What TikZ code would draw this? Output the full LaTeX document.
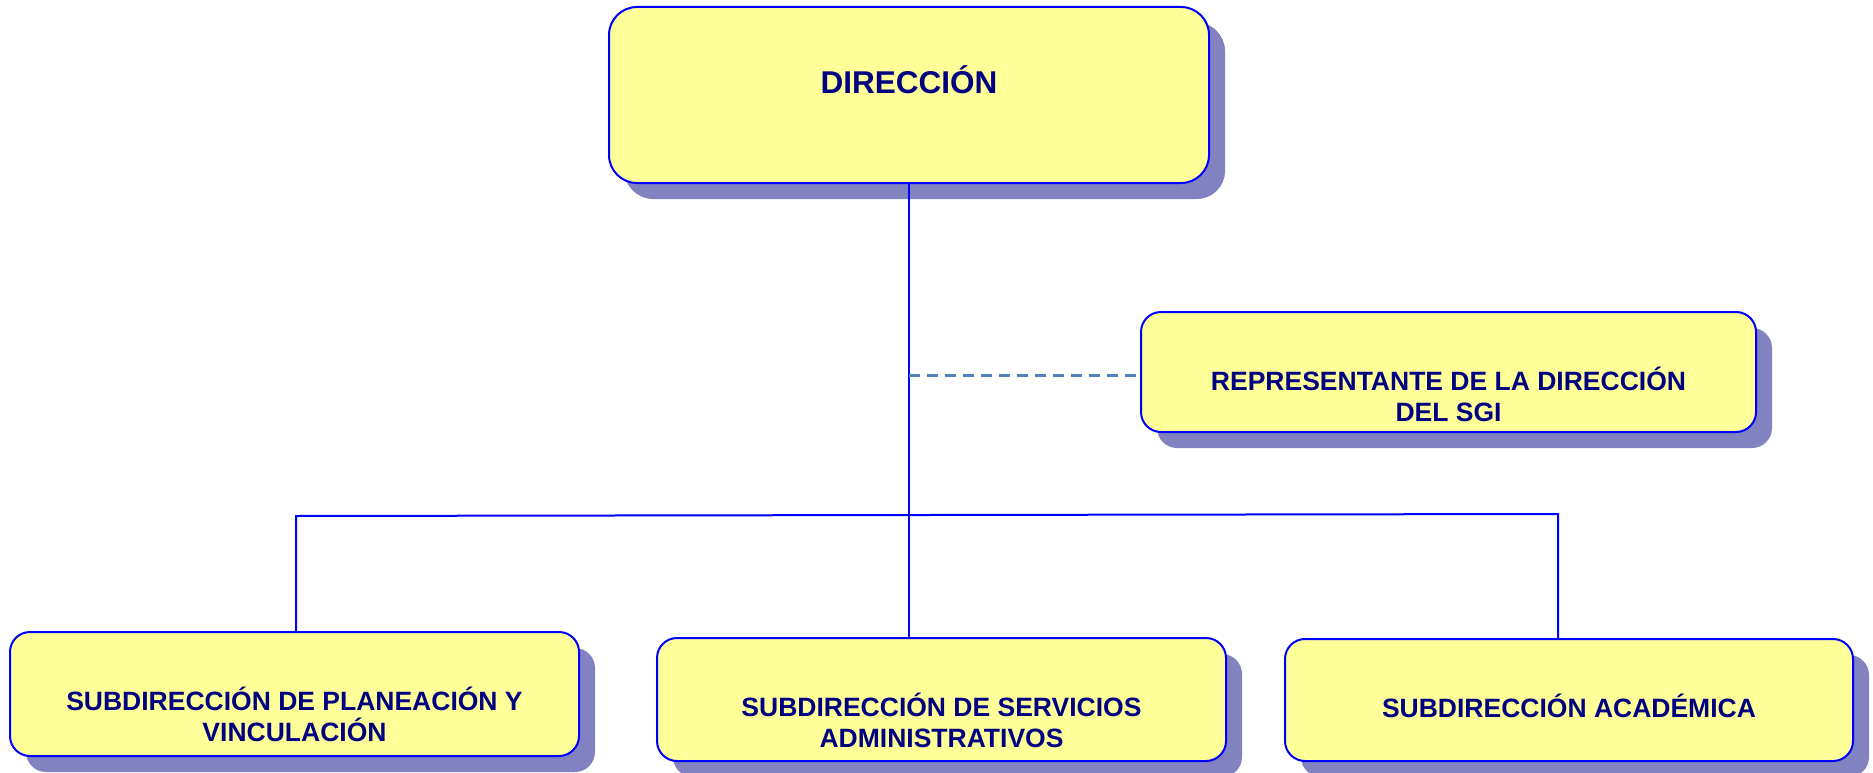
\documentclass[tikz,border=0pt]{standalone}
\usepackage{fontspec}
\setmainfont{Liberation Sans}
\usetikzlibrary{shadows}
\definecolor{boxfill}{HTML}{FFFF99}
\definecolor{boxline}{HTML}{0000FF}
\definecolor{txtnavy}{HTML}{000080}
\definecolor{shadecol}{HTML}{8282C0}
\definecolor{dashblue}{HTML}{4F81BD}
\begin{document}
\begin{tikzpicture}[x=1pt,y=-1pt,
  orgbox/.style={draw=boxline, line width=2pt, fill=boxfill, rounded corners=20pt,
    inner sep=0pt, general shadow={fill=shadecol, shadow xshift=16pt, shadow yshift=-16pt}},
  lbl/.style={text=txtnavy, font=\bfseries\fontsize{26.5}{31}\selectfont, align=center, anchor=base, inner sep=0pt},
  biglbl/.style={lbl, font=\bfseries\fontsize{31.5}{37}\selectfont},
  link/.style={draw=boxline, line width=2pt},
  dashlink/.style={draw=dashblue, line width=2.5pt, dash pattern=on 11pt off 7pt}]
\useasboundingbox (0,0) rectangle (1873,773);
% boxes
\node[orgbox, rounded corners=28pt, general shadow={fill=shadecol, shadow xshift=15pt, shadow yshift=-15pt},
  minimum width=600pt, minimum height=176pt] (dir) at (909,95) {};
\node[orgbox, minimum width=615pt, minimum height=120pt] (rep) at (1448.5,372) {};
\node[orgbox, minimum width=569pt, minimum height=124pt] (plan) at (294.5,694) {};
\node[orgbox, minimum width=569pt, minimum height=123pt] (serv) at (941.5,699.5) {};
\node[orgbox, minimum width=568pt, minimum height=122pt] (acad) at (1569,700) {};
% texts (base anchor = baseline of the last line)
\node[biglbl] (dirt) at (909,93.3) {DIRECCIÓN};
\node[lbl] (rept) at (1448.5,421) {REPRESENTANTE DE LA DIRECCIÓN\\DEL SGI};
\node[lbl] (plant) at (294.5,741) {SUBDIRECCIÓN DE PLANEACIÓN Y\\VINCULACIÓN};
\node[lbl] (servt) at (941.5,747) {SUBDIRECCIÓN DE SERVICIOS\\ADMINISTRATIVOS};
\node[lbl] (acadt) at (1569,717) {SUBDIRECCIÓN ACADÉMICA};
% connectors
\coordinate (jl) at (296,516);
\coordinate (jr) at (1558,514);
\coordinate (dj) at (908.5,375.7);
\draw[link] (dir.south -| dj) -- (serv.north -| dj);
\draw[link] (plan.north -| jl) -- (jl) -- (jr) -- (jr |- acad.north);
\draw[dashlink] (dj) -- (dj -| rep.west);
\end{tikzpicture}
\end{document}
